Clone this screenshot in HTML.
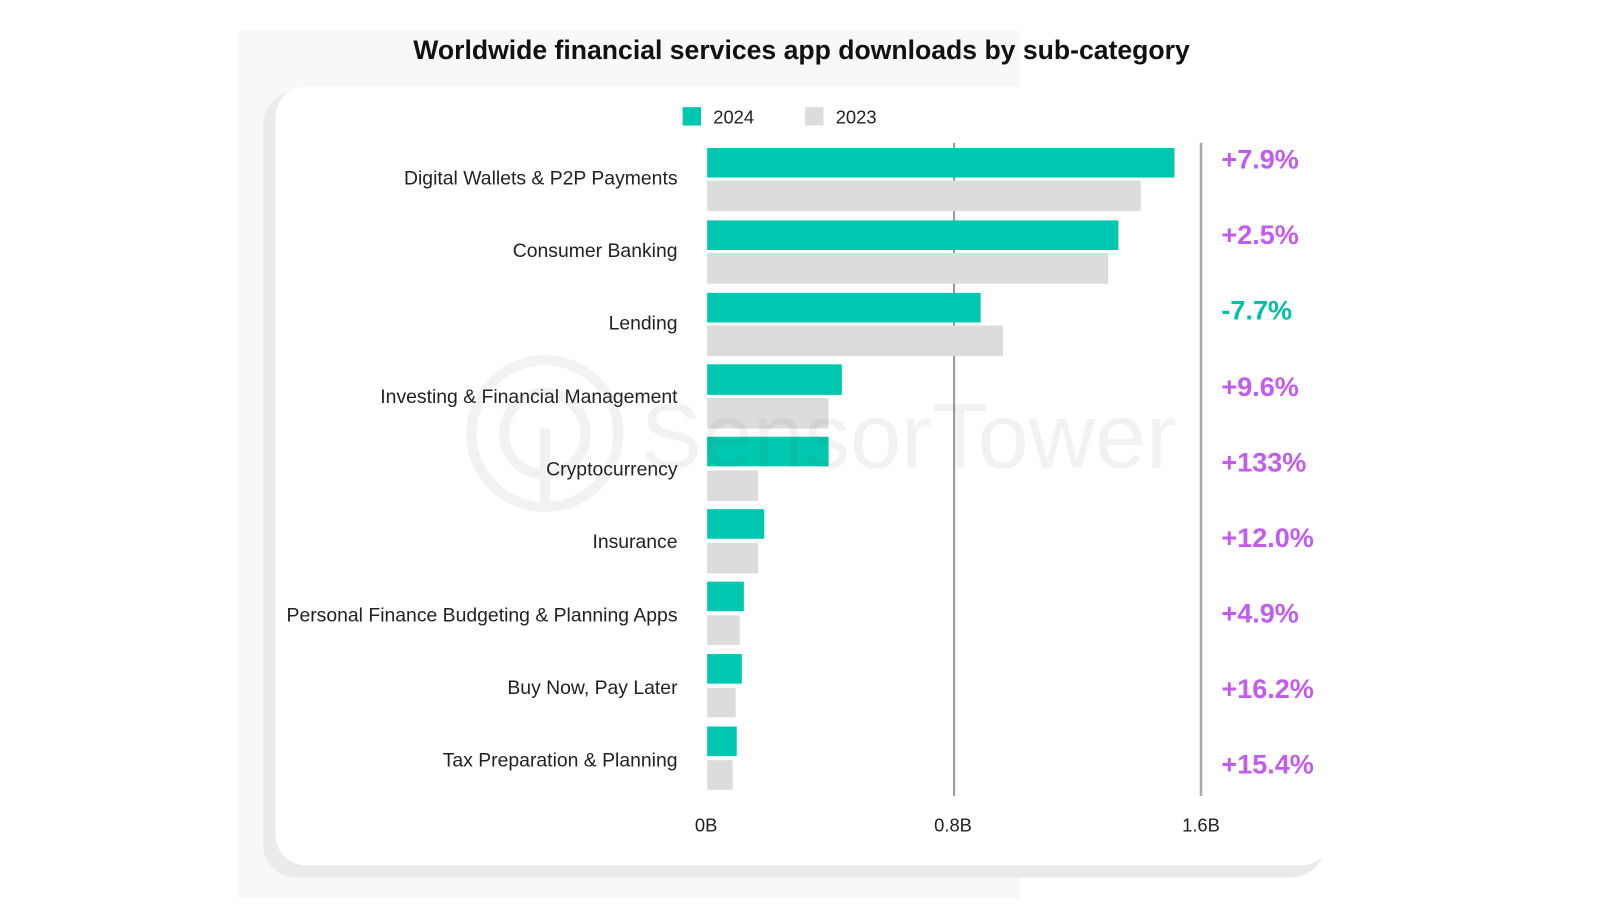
<!DOCTYPE html>
<html><head><meta charset="utf-8"><style>
body{margin:0;background:#fff;}
svg text{font-family:"Liberation Sans",sans-serif;}
</style></head><body>
<svg width="1600" height="900" xmlns="http://www.w3.org/2000/svg">
<rect x="0" y="0" width="1600" height="900" fill="#fff"/>
<g transform="scale(1.0204)">
<rect x="233" y="30" width="767" height="850" fill="#f8f8f8"/>
<rect x="258" y="90" width="1040" height="770" rx="32" fill="#ebebeb"/>
<rect x="270" y="85" width="1035" height="763" rx="30" fill="#fff"/>
<text x="405" y="58" textLength="761" lengthAdjust="spacingAndGlyphs" font-size="26" font-weight="bold" fill="#111">Worldwide financial services app downloads by sub-category</text>
<rect x="669" y="105" width="18" height="18" fill="#00c8b0"/>
<text x="699" y="121" font-size="18" fill="#222">2024</text>
<rect x="789" y="105" width="18" height="18" fill="#dcdcdc"/>
<text x="819" y="121" font-size="18" fill="#222">2023</text>
<line x1="935" y1="140" x2="935" y2="780" stroke="#999" stroke-width="2"/>
<line x1="1177" y1="140" x2="1177" y2="780" stroke="#aaa" stroke-width="2.5"/>
<g fill="#00c8b0">
<rect x="693" y="145" width="458" height="29"/>
<rect x="693" y="216" width="403" height="29"/>
<rect x="693" y="287" width="268" height="29"/>
<rect x="693" y="357" width="132" height="30"/>
<rect x="693" y="428" width="119" height="29"/>
<rect x="693" y="499" width="56" height="29"/>
<rect x="693" y="570" width="36" height="29"/>
<rect x="693" y="641" width="34" height="29"/>
<rect x="693" y="712" width="29" height="29"/>
</g>
<g fill="#dcdcdc">
<rect x="693" y="177" width="425" height="30"/>
<rect x="693" y="248" width="393" height="30"/>
<rect x="693" y="319" width="290" height="30"/>
<rect x="693" y="390" width="119" height="30"/>
<rect x="693" y="461" width="50" height="30"/>
<rect x="693" y="532" width="50" height="30"/>
<rect x="693" y="603" width="32" height="29"/>
<rect x="693" y="674" width="28" height="29"/>
<rect x="693" y="745" width="25" height="29"/>
</g>
<g font-size="19" fill="#222" text-anchor="end">
<text x="664" y="181">Digital Wallets &amp; P2P Payments</text>
<text x="664" y="252">Consumer Banking</text>
<text x="664" y="323">Lending</text>
<text x="664" y="395">Investing &amp; Financial Management</text>
<text x="664" y="466">Cryptocurrency</text>
<text x="664" y="537">Insurance</text>
<text x="664" y="609">Personal Finance Budgeting &amp; Planning Apps</text>
<text x="664" y="680">Buy Now, Pay Later</text>
<text x="664" y="751">Tax Preparation &amp; Planning</text>
</g>
<g font-size="26.5" font-weight="bold" fill="#c25cf0">
<text x="1197" y="165">+7.9%</text>
<text x="1197" y="239">+2.5%</text>
<text x="1197" y="313" fill="#00c0a8">-7.7%</text>
<text x="1197" y="388">+9.6%</text>
<text x="1197" y="462">+133%</text>
<text x="1197" y="536">+12.0%</text>
<text x="1197" y="610">+4.9%</text>
<text x="1197" y="684">+16.2%</text>
<text x="1197" y="758">+15.4%</text>
</g>
<g font-size="18" fill="#222" text-anchor="middle">
<text x="692" y="815">0B</text>
<text x="934" y="815">0.8B</text>
<text x="1177" y="815">1.6B</text>
</g>
<g opacity="0.07">
<circle cx="534" cy="425" r="72" fill="none" stroke="#555" stroke-width="10"/>
<circle cx="534" cy="425" r="40" fill="none" stroke="#555" stroke-width="10"/>
<rect x="529" y="420" width="10" height="80" fill="#555"/>
<text x="628" y="458" font-size="90" fill="#555">SensorTower</text>
</g>
</g>
</svg>
</body></html>
